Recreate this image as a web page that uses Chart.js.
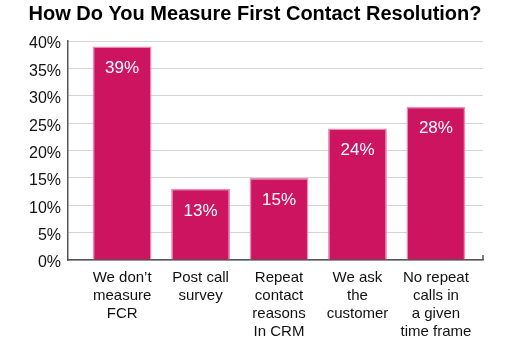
<!DOCTYPE html>
<html>
<head>
<meta charset="utf-8">
<script src="https://cdn.jsdelivr.net/npm/chart.js@4"></script>
<style>
  html, body { margin: 0; padding: 0; background: #fff; }
  #wrap { width: 510px; height: 340px; }
</style>
</head>
<body>
<div id="wrap"><canvas id="chart"></canvas></div>
<script>
// data
const categories = [
  ["We don\u2019t", "measure", "FCR"],
  ["Post call", "survey"],
  ["Repeat", "contact", "reasons", "In CRM"],
  ["We ask", "the", "customer"],
  ["No repeat", "calls in", "a given", "time frame"]
];
const values = [39, 13, 15, 24, 28];
const yTicks = [0, 5, 10, 15, 20, 25, 30, 35, 40];

const FONT = "'Liberation Sans', Arial, sans-serif";

// white % labels inside the bars + small end tick on the x axis
const barLabels = {
  id: 'barLabels',
  afterDatasetsDraw(chart) {
    const ctx = chart.ctx;
    const meta = chart.getDatasetMeta(0);
    ctx.save();
    ctx.fillStyle = '#ffffff';
    ctx.font = '17px ' + FONT;
    ctx.textAlign = 'center';
    ctx.textBaseline = 'middle';
    meta.data.forEach((bar, i) => {
      ctx.fillText(values[i] + '%', bar.x, bar.y + 22);
    });
    const a = chart.chartArea;
    ctx.strokeStyle = '#555';
    ctx.lineWidth = 1.5;
    ctx.beginPath();
    ctx.moveTo(a.right, a.bottom);
    ctx.lineTo(a.right, a.bottom - 5);
    ctx.stroke();
    ctx.restore();
  }
};

new Chart(document.getElementById('chart'), {
  type: 'bar',
  data: {
    datasets: [{
      data: values.map((v, i) => ({ x: i, y: v })),
      backgroundColor: '#cc1461',
      borderColor: '#ea8bb2',
      borderWidth: 1.5,
      borderSkipped: 'bottom',
      barPercentage: 0.75,
      categoryPercentage: 1
    }]
  },
  options: {
    responsive: true,
    maintainAspectRatio: false,
    animation: false,
    layout: { padding: 0 },
    plugins: {
      legend: { display: false },
      tooltip: { enabled: false },
      title: {
        display: true,
        text: 'How Do You Measure First Contact Resolution?',
        color: '#000',
        font: { family: FONT, size: 20, weight: 'bold' },
        padding: { top: 2, bottom: 15 }
      }
    },
    scales: {
      x: {
        type: 'linear',
        offset: false,
        min: -0.69,
        max: 4.6,
        afterBuildTicks: (scale) => { scale.ticks = values.map((v, i) => ({ value: i })); },
        afterFit: (scale) => { scale.height = 80; },
        grid: { display: false, offset: false },
        border: { display: true, color: '#555', width: 1.5 },
        ticks: {
          autoSkip: false,
          maxRotation: 0,
          padding: 1,
          color: '#111',
          font: { family: FONT, size: 15, lineHeight: 1.2 },
          callback: (v) => categories[v]
        }
      },
      y: {
        min: 0,
        max: 40,
        afterBuildTicks: (scale) => { scale.ticks = yTicks.map(v => ({ value: v })); },
        afterFit: (scale) => { scale.width = 68; },
        grid: { color: '#d4d4d4', drawTicks: false },
        border: { display: true, color: '#555', width: 1.5 },
        ticks: {
          padding: 7,
          labelOffset: 3,
          color: '#111',
          font: { family: FONT, size: 16 },
          callback: (v) => v + '%'
        }
      },
      // empty right-hand gutter so the title stays centred on the page
      gutter: {
        type: 'linear',
        position: 'right',
        display: true,
        grid: { display: false },
        border: { display: false },
        ticks: { display: false },
        afterFit: (scale) => { scale.width = 27; }
      }
    }
  },
  plugins: [barLabels]
});
</script>
</body>
</html>
